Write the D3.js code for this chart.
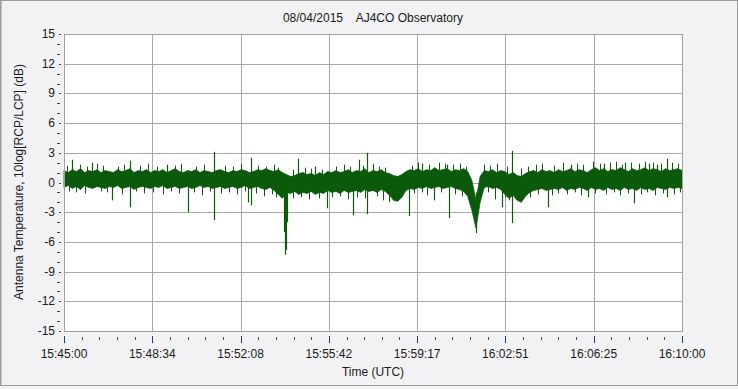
<!DOCTYPE html>
<html>
<head>
<meta charset="utf-8">
<script src="https://cdn.jsdelivr.net/npm/d3@7"></script>
<style>
  body { margin: 0; background: #f2f2f4; }
  text { font-family: "Liberation Sans", Arial, sans-serif; fill: #1a1a1a; }
</style>
</head>
<body>
<div id="chart"></div>
<script>

// seconds after 15:45:00, sampled every 10 s (0..1500)
let bandHigh = [
    1.2, 1.0, 1.3, 1.1, 1.4, 1.0, 1.2, 1.1, 1.3, 1.0,
    1.2, 1.1, 1.0, 1.3, 1.1, 1.2, 1.4, 1.0, 1.2, 1.1,
    1.3, 1.0, 1.2, 1.1, 1.3, 1.0, 1.2, 1.4, 1.1, 1.0,
    1.2, 1.1, 1.3, 1.0, 1.2, 1.1, 1.0, 1.2, 1.3, 1.1,
    1.0, 1.2, 1.1, 1.3, 1.2, 1.0, 1.1, 1.3, 1.2, 1.4,
    1.2, 1.1, 1.3, 1.0, 0.8, 0.6, 0.7, 0.9, 1.0, 0.8,
    0.9, 0.7, 1.0, 0.8, 1.1, 1.0, 1.2, 1.0, 1.1, 1.3,
    1.0, 1.2, 1.1, 1.4, 1.0, 1.2, 1.1, 1.3, 1.0, 0.9,
    0.7, 0.6, 0.8, 1.1, 1.3, 1.2, 1.4, 1.1, 1.3, 1.2,
    1.5, 1.2, 1.3, 1.4, 1.1, 1.3, 1.2, 1.4, 1.1, 0.2,
    -1.8, 0.6, 1.2, 1.1, 1.3, 1.0, 1.2, 1.1, 0.8, 1.0,
    0.7, 0.6, 0.9, 1.1, 1.2, 1.0, 1.3, 1.1, 1.2, 1.0,
    1.3, 1.1, 1.2, 1.4, 1.1, 1.3, 1.2, 1.0, 1.3, 1.5,
    1.2, 1.4, 1.1, 1.3, 1.2, 1.5, 1.3, 1.1, 1.4, 1.2,
    1.3, 1.5, 1.2, 1.4, 1.3, 1.1, 1.4, 1.2, 1.3, 1.4,
    1.2
];
let bandLow = [
    -0.5, -0.3, -0.6, -0.4, -0.7, -0.3, -0.5, -0.6, -0.4, -0.5,
    -0.6, -0.4, -0.5, -0.3, -0.6, -0.5, -0.4, -0.7, -0.5, -0.4,
    -0.5, -0.6, -0.4, -0.5, -0.3, -0.6, -0.5, -0.4, -0.6, -0.5,
    -0.4, -0.6, -0.5, -0.3, -0.5, -0.4, -0.6, -0.5, -0.4, -0.6,
    -0.5, -0.4, -0.6, -0.5, -0.3, -0.6, -0.5, -0.4, -0.6, -0.7,
    -0.5, -0.8, -1.2, -1.6, -1.0, -1.1, -0.9, -1.2, -1.0, -1.1,
    -0.9, -1.2, -1.0, -1.1, -0.8, -1.0, -0.9, -1.1, -0.8, -1.0,
    -0.9, -0.8, -1.0, -0.7, -0.9, -0.8, -1.0, -0.7, -0.9, -1.3,
    -1.8, -1.9, -1.5, -0.8, -0.6, -0.7, -0.5, -0.6, -0.4, -0.6,
    -0.5, -0.4, -0.6, -0.5, -0.4, -0.6, -0.7, -0.9, -1.4, -2.8,
    -4.6, -2.0, -0.5, -0.4, -0.6, -0.5, -0.7, -1.2, -1.6, -1.3,
    -1.8, -2.0, -1.4, -1.0, -0.8, -0.7, -0.6, -0.8, -0.7, -0.6,
    -0.7, -0.5, -0.8, -0.6, -0.7, -0.5, -0.6, -0.8, -0.5, -0.7,
    -0.6, -0.8, -0.5, -0.7, -0.6, -0.8, -0.5, -0.7, -0.6, -0.8,
    -0.5, -0.7, -0.6, -0.8, -0.5, -0.6, -0.7, -0.5, -0.6, -0.5,
    -0.6
];

// single spikes: seconds, top, bottom (dB)
let spikeTime = [19, 68, 117, 160, 250, 301, 364, 447, 454, 533, 536, 539, 541, 568, 610, 638, 701, 716, 735,
                 837, 870, 898, 930, 934, 1000, 1063, 1087, 1175, 1230, 1272, 1310, 1362, 1383, 1420, 1440, 1464];
let spikeHigh = [2.3, 2.0, 0.5, 2.2, 1.8, 0.5, 3.1, 0.5, 2.5, 0.5, 0.0, 0.0, 0.3, 2.4, 1.6, 0.0, 0.0, 2.3, 3.0,
                 0.0, 1.9, 0.0, 1.8, 0.0, -1.0, 0.0, 3.2, 0.0, 1.8, 0.0, 1.9, 2.0, 0.0, 1.9, 1.8, 2.4];
let spikeLow = [0.0, 0.0, -1.8, -2.5, 0.0, -3.0, -3.8, -2.0, -2.3, -5.0, -7.3, -6.8, -4.0, 0.0, 0.0, -2.6, -3.3, 0.0, -3.2,
                -3.4, 0.0, -1.8, 0.0, -3.6, -5.1, -2.5, -4.1, -2.5, 0.0, -1.5, 0.0, 0.0, -2.1, 0.0, 0.0, -1.5];

// small noise excursions just outside the band: seconds, peak (dB)
let hairTime = [8, 40, 55, 80, 95, 130, 145, 185, 205, 225, 270, 285, 320, 340, 390, 410, 430, 470, 490, 510,
                520, 555, 585, 600, 625, 660, 680, 695, 725, 750, 765, 780, 845, 860, 885, 910, 925, 945, 960, 975,
                1020, 1035, 1050, 1075, 1110, 1125, 1145, 1160, 1190, 1210, 1245, 1260, 1285, 1300, 1325, 1340, 1355,
                1375, 1395, 1410, 1430, 1450, 1475, 1490,
                12, 30, 50, 90, 105, 140, 175, 195, 215, 240, 260, 280, 315, 335, 355, 380, 400, 420, 440, 465,
                485, 505, 515, 555, 575, 595, 620, 650, 670, 690, 710, 730, 760, 775, 790, 850, 870, 880, 915, 950,
                965, 1030, 1045, 1070, 1080, 1130, 1150, 1185, 1200, 1220, 1240, 1255, 1290, 1315, 1335, 1350, 1370,
                1400, 1415, 1435, 1455, 1480, 1495];
let hairValue = [1.7, 1.8, 1.6, 1.9, 1.7, 1.6, 1.8, 1.7, 1.9, 1.6, 1.7, 1.9, 1.6, 1.8, 1.7, 1.6, 1.9, 1.7, 1.6, 1.8,
                 1.5, 1.3, 1.5, 1.4, 1.3, 1.6, 1.8, 1.6, 1.7, 1.9, 1.6, 1.5, 1.7, 2.0, 1.8, 2.0, 1.9, 1.8, 1.9, 1.6,
                 1.8, 1.7, 1.9, 1.6, 1.4, 1.6, 1.8, 1.9, 1.7, 2.0, 1.9, 1.8, 2.1, 1.9, 2.0, 2.1, 1.8,
                 2.0, 1.9, 2.1, 2.0, 1.9, 2.0, 1.9,
                 -0.9, -1.0, -1.1, -0.9, -1.0, -1.2, -0.9, -1.1, -1.0, -1.2, -0.9, -1.1, -1.0, -1.3, -0.9, -1.1, -1.0, -1.2, -0.9, -1.1,
                 -1.4, -1.2, -1.5, -1.6, -1.5, -1.7, -1.6, -1.5, -1.4, -1.7, -1.5, -1.6, -1.4, -1.8, -2.0, -1.1, -1.0, -1.3, -1.0, -1.2,
                 -1.4, -1.0, -1.7, -1.5, -1.8, -1.5, -1.2, -1.3, -1.1, -1.2, -1.0, -1.3, -1.1, -1.2, -1.0, -1.3, -1.1,
                 -1.2, -1.0, -1.3, -1.1, -1.2, -1.0];

let yTicks = [-15, -12, -9, -6, -3, 0, 3, 6, 9, 12, 15];
let xTickLabels = ["15:45:00", "15:48:34", "15:52:08", "15:55:42", "15:59:17", "16:02:51", "16:06:25", "16:10:00"];

let width = 738, height = 389;
let plotLeft = 64, plotRight = 682, plotTop = 34, plotBottom = 331;
let traceColor = "#0b5a0b";

let svg = d3.select("#chart").append("svg")
    .attr("width", width)
    .attr("height", height)
    .style("display", "block");

// window frame
svg.append("rect")
    .attr("x", 0.5).attr("y", 0.5)
    .attr("width", width - 1).attr("height", height - 4)
    .attr("fill", "#f2f2f4")
    .attr("stroke", "#9c9c9c");
svg.append("line")
    .attr("x1", 1.5).attr("x2", 1.5).attr("y1", 1).attr("y2", height - 4)
    .attr("stroke", "#c4c4c4");

let x = d3.scaleLinear().domain([0, 1500]).range([plotLeft, plotRight]);
let y = d3.scaleLinear().domain([-15, 15]).range([plotBottom, plotTop]);

let xTicks = xTickLabels.map((d, i) => i * 1500 / (xTickLabels.length - 1));
let xMinor = d3.range(0, 1500 + 1e-6, 1500 / 35);
let yMinor = d3.range(-15, 15.001, 1).filter(d => d % 3 != 0);

// plot area
svg.append("rect")
    .attr("x", plotLeft + 0.5).attr("y", plotTop + 0.5)
    .attr("width", plotRight - plotLeft).attr("height", plotBottom - plotTop)
    .attr("fill", "#ffffff");

let grid = svg.append("g").attr("stroke", "#a8a8a8").attr("shape-rendering", "crispEdges");
grid.selectAll(".hg")
    .data(yTicks)
    .enter()
    .append("line")
    .attr("x1", plotLeft).attr("x2", plotRight)
    .attr("y1", d => Math.round(y(d)) + 0.5)
    .attr("y2", d => Math.round(y(d)) + 0.5);
grid.selectAll(".vg")
    .data(xTicks)
    .enter()
    .append("line")
    .attr("y1", plotTop).attr("y2", plotBottom)
    .attr("x1", d => Math.round(x(d)) + 0.5)
    .attr("x2", d => Math.round(x(d)) + 0.5);

// trace
let samples = bandHigh.map((d, i) => ({t: i * 10, hi: d, lo: bandLow[i]}));

let band = d3.area()
    .x(d => x(d.t))
    .y0(d => y(d.lo))
    .y1(d => y(d.hi));

svg.append("path")
    .datum(samples)
    .attr("d", band)
    .attr("fill", traceColor)
    .attr("stroke", traceColor)
    .attr("stroke-width", 0.8);

svg.append("g")
    .selectAll("line")
    .data(hairTime)
    .enter()
    .append("line")
    .attr("x1", d => Math.round(x(d)) + 0.5).attr("x2", d => Math.round(x(d)) + 0.5)
    .attr("y1", (d, i) => y(hairValue[i] > 0 ? 0.6 : 0.2))
    .attr("y2", (d, i) => y(hairValue[i]))
    .attr("stroke", traceColor)
    .attr("stroke-width", 1);

svg.append("g")
    .selectAll("line")
    .data(spikeTime)
    .enter()
    .append("line")
    .attr("x1", d => Math.round(x(d)) + 0.5).attr("x2", d => Math.round(x(d)) + 0.5)
    .attr("y1", (d, i) => y(spikeHigh[i]))
    .attr("y2", (d, i) => y(spikeLow[i]))
    .attr("stroke", traceColor)
    .attr("stroke-width", 1.2);

// plot border
svg.append("rect")
    .attr("x", plotLeft + 0.5).attr("y", plotTop + 0.5)
    .attr("width", plotRight - plotLeft).attr("height", plotBottom - plotTop)
    .attr("fill", "none")
    .attr("stroke", "#a0a0a0")
    .attr("shape-rendering", "crispEdges");

// y axis
let yAxis = svg.append("g").attr("shape-rendering", "crispEdges");
yAxis.selectAll(".ymaj")
    .data(yTicks)
    .enter()
    .append("line")
    .attr("x1", 59).attr("x2", 61)
    .attr("y1", d => Math.round(y(d)) + 0.5)
    .attr("y2", d => Math.round(y(d)) + 0.5)
    .attr("stroke", "#444");
yAxis.selectAll(".ymin")
    .data(yMinor)
    .enter()
    .append("line")
    .attr("x1", 57).attr("x2", 60)
    .attr("y1", d => Math.round(y(d)) + 0.5)
    .attr("y2", d => Math.round(y(d)) + 0.5)
    .attr("stroke", "#444");
yAxis.selectAll("text")
    .data(yTicks)
    .enter()
    .append("text")
    .attr("x", 55)
    .attr("y", d => y(d) + 4)
    .attr("text-anchor", "end")
    .attr("font-size", 12)
    .text(d => d);

// x axis
let xAxis = svg.append("g").attr("shape-rendering", "crispEdges");
xAxis.selectAll(".xmin")
    .data(xMinor)
    .enter()
    .append("line")
    .attr("x1", d => Math.round(x(d)) + 0.5)
    .attr("x2", d => Math.round(x(d)) + 0.5)
    .attr("y1", 337).attr("y2", 340)
    .attr("stroke", "#555");
xAxis.selectAll(".xmaj")
    .data(xTicks)
    .enter()
    .append("line")
    .attr("x1", d => Math.round(x(d)) + 0.5)
    .attr("x2", d => Math.round(x(d)) + 0.5)
    .attr("y1", 336).attr("y2", 343)
    .attr("stroke", "#1f3c78");
xAxis.selectAll("text")
    .data(xTicks)
    .enter()
    .append("text")
    .attr("x", d => x(d))
    .attr("y", 358)
    .attr("text-anchor", "middle")
    .attr("font-size", 12)
    .text((d, i) => xTickLabels[i]);

// titles
svg.append("text")
    .attr("x", 373).attr("y", 22)
    .attr("text-anchor", "middle")
    .attr("font-size", 12)
    .style("white-space", "pre")
    .text("08/04/2015    AJ4CO Observatory");

svg.append("text")
    .attr("x", 373).attr("y", 376)
    .attr("text-anchor", "middle")
    .attr("font-size", 12)
    .text("Time (UTC)");

svg.append("text")
    .attr("transform", "translate(23,182) rotate(-90)")
    .attr("text-anchor", "middle")
    .attr("font-size", 12)
    .text("Antenna Temperature, 10log[RCP/LCP] (dB)");

</script>
</body>
</html>
